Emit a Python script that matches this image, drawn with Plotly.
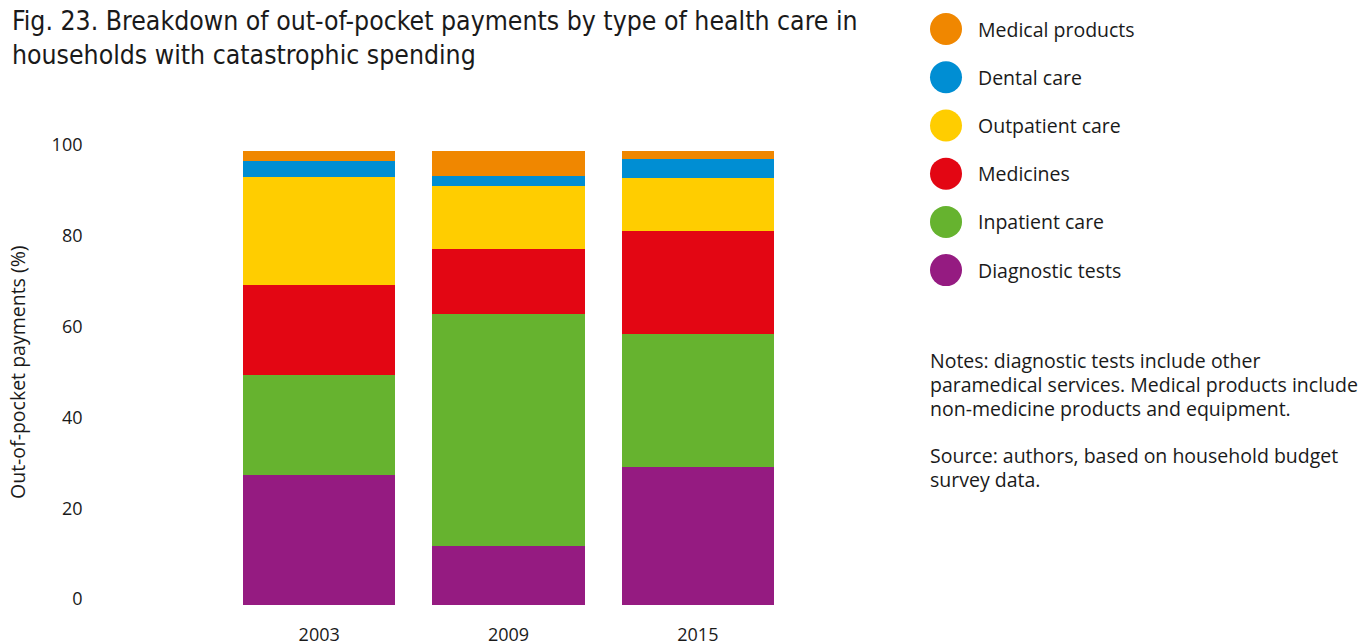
import plotly.graph_objects as go

#---DATA---
years = ['2003', '2009', '2015']
categories = ['Medical products', 'Dental care', 'Outpatient care',
              'Medicines', 'Inpatient care', 'Diagnostic tests']

diagnostic_tests = [28.6, 12.9, 30.3]
inpatient_care = [22.0, 51.3, 29.3]
medicines = [19.8, 14.3, 22.7]
outpatient_care = [23.8, 13.9, 11.7]
dental_care = [3.7, 2.0, 4.2]
medical_products = [2.0, 5.7, 2.0]

colors = {
    'Medical products': '#F08700',
    'Dental care': '#008ED3',
    'Outpatient care': '#FFCD00',
    'Medicines': '#E30613',
    'Inpatient care': '#66B32F',
    'Diagnostic tests': '#951B81',
}

series = {
    'Diagnostic tests': diagnostic_tests,
    'Inpatient care': inpatient_care,
    'Medicines': medicines,
    'Outpatient care': outpatient_care,
    'Dental care': dental_care,
    'Medical products': medical_products,
}

#page has an 8px body margin, so the figure is a bit smaller than the window
OFF = 8
W, H = 1371 - OFF, 644 - OFF
font_main = 'Open Sans'
text_color = '#1a1a1a'


def fx(px):
    return (px - OFF) / W


def fy(py):
    return 1 - (py - OFF) / H


#---PLOT---
fig = go.Figure()

#stacked bars, bottom to top
for name, vals in series.items():
    fig.add_trace(go.Bar(
        x=years,
        y=vals,
        name=name,
        marker_color=colors[name],
        marker_line_width=0,
        showlegend=False))

#custom legend: big circles on a side axis
fig.add_trace(go.Scatter(
    x=[0] * len(categories),
    y=categories,
    mode='markers',
    marker=dict(size=32, color=[colors[c] for c in categories]),
    xaxis='x2',
    yaxis='y2',
    cliponaxis=False,
    showlegend=False,
    hoverinfo='skip'))

for c in categories:
    fig.add_annotation(
        x=0, y=c, xref='x2', yref='y2',
        xshift=30, xanchor='left', yanchor='middle',
        text=c, showarrow=False,
        font=dict(family=font_main, size=19.5, color=text_color))

#---STYLE---
fig.update_layout(
    barmode='stack',
    bargap=0.196,
    width=W,
    height=H,
    margin=dict(l=0, r=0, t=0, b=0),
    plot_bgcolor='white',
    paper_bgcolor='white',
    font=dict(family=font_main, size=18, color=text_color),
    xaxis=dict(
        domain=[fx(224.5), fx(792.5)],
        type='category',
        automargin=False,
        showgrid=False, zeroline=False, showline=False, ticks='',
        ticklabelstandoff=17,
        tickfont=dict(size=18)),
    yaxis=dict(
        domain=[fy(605), fy(151)],
        range=[0, 100],
        tickvals=[0, 20, 40, 60, 80, 100],
        automargin=False,
        showgrid=False, zeroline=False, showline=False, ticks='',
        ticklabelstandoff=141,
        ticklabelshift=-6,
        tickfont=dict(size=18)),
    xaxis2=dict(
        domain=[fx(946), 1.0],
        range=[0, 1],
        automargin=False,
        visible=False),
    yaxis2=dict(
        domain=[fy(294.2), 1.0],
        type='category',
        categoryorder='array',
        categoryarray=categories,
        range=[5.5, -0.436],
        anchor='x2',
        automargin=False,
        visible=False),
)

#title
fig.add_annotation(
    xref='paper', yref='paper',
    x=fx(10), y=fy(37),
    xanchor='left', yanchor='middle', align='left',
    text='Fig. 23. Breakdown of out-of-pocket payments by type of health care in<br>households with catastrophic spending',
    showarrow=False,
    font=dict(family='DejaVu Sans Condensed, Liberation Sans Narrow, Roboto Condensed, Roboto',
              size=26.4, color=text_color))

#y axis title
fig.add_annotation(
    xref='paper', yref='paper',
    x=fx(17), y=fy(372),
    xanchor='center', yanchor='middle',
    textangle=-90,
    text='Out-of-pocket payments (%)',
    showarrow=False,
    font=dict(family=font_main, size=19.5, color=text_color))

#notes
note_lines = [
    (360, 'Notes: diagnostic tests include other'),
    (384, 'paramedical services. Medical products include'),
    (408, 'non-medicine products and equipment.'),
    (456, 'Source: authors, based on household budget'),
    (480, 'survey data.'),
]
for ypx, line in note_lines:
    fig.add_annotation(
        xref='paper', yref='paper',
        x=fx(928), y=fy(ypx),
        xanchor='left', yanchor='middle',
        text=line, showarrow=False,
        font=dict(family=font_main, size=19.5, color=text_color))

fig.write_html('out.html')
